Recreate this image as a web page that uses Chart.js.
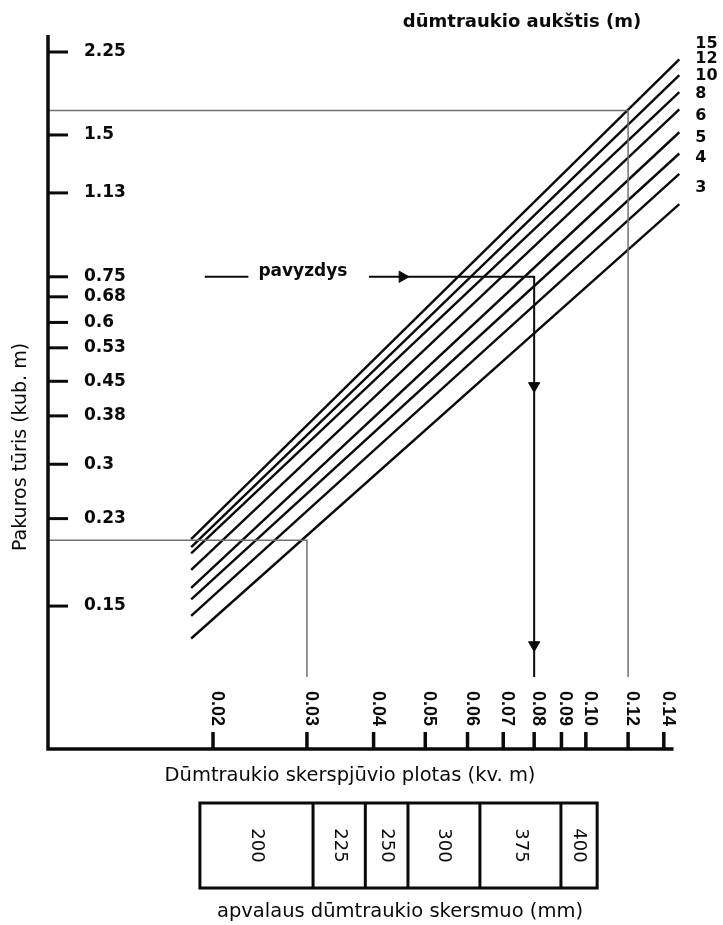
<!DOCTYPE html>
<html lang="lt">
<head>
<meta charset="utf-8">
<title>Pakuros tūris ir dūmtraukio skerspjūvis</title>
<script src="https://cdn.jsdelivr.net/npm/chart.js@4.4.1/dist/chart.umd.min.js"></script>
<style>
  html, body { margin: 0; padding: 0; background: #fff; }
  #wrap { width: 723px; height: 925px; }
</style>
</head>
<body>
<div id="wrap"><canvas id="nomogram" width="723" height="925"></canvas></div>
<script>
// ===== Duomenys =====
// dūmtraukio aukštis (m) – viena linija kiekvienam aukščiui
const HEIGHTS = ['15', '12', '10', '8', '6', '5', '4', '3'];
const LINE_AREA = [0.0182, 0.1497];                 // skerspjūvis (kv. m) linijos pradžioje / gale
const LINE_VOL_START = [0.208, 0.200, 0.194, 0.179, 0.164, 0.155, 0.143, 0.128];
const LINE_VOL_END = [2.17, 2.01, 1.85, 1.70, 1.52, 1.37, 1.24, 1.07];

// ašys
const Y_TICKS = [2.25, 1.5, 1.13, 0.75, 0.68, 0.6, 0.53, 0.45, 0.38, 0.3, 0.23, 0.15];
const Y_TICK_LABELS = ['2.25', '1.5', '1.13', '0.75', '0.68', '0.6', '0.53', '0.45', '0.38', '0.3', '0.23', '0.15'];
const X_TICKS = [0.02, 0.03, 0.04, 0.05, 0.06, 0.07, 0.08, 0.09, 0.10, 0.12, 0.14];
const X_TICK_LABELS = ['0.02', '0.03', '0.04', '0.05', '0.06', '0.07', '0.08', '0.09', '0.10', '0.12', '0.14'];
const X_MIN = 0.00981, X_MAX = 0.1521, X_AXIS_END = 0.146;
const Y_MIN = 0.07459, Y_MAX = 2.445;

// pagalbinės linijos (pilkos)
const GUIDE_HIGH_AREA = [0.00981, 0.12, 0.12];
const GUIDE_HIGH_VOL = [1.69, 1.69, 0.106];
const GUIDE_LOW_AREA = [0.00981, 0.03, 0.03];
const GUIDE_LOW_VOL = [0.207, 0.207, 0.106];

// pavyzdys
const EXAMPLE_LEAD_AREA = [0.0193, 0.0233];
const EXAMPLE_LEAD_VOL = [0.75, 0.75];
const EXAMPLE_AREA = [0.0392, 0.08, 0.08];
const EXAMPLE_VOL = [0.75, 0.75, 0.106];
const ARROW_AREA = [0.0453, 0.08, 0.08];
const ARROW_VOL = [0.75, 0.44, 0.124];
const ARROW_ROT = [90, 180, 180];

// apvalaus dūmtraukio skersmuo (mm) ir atitinkamos skerspjūvio ribos
const PIPE_DIAMETERS = ['200', '225', '250', '300', '375', '400'];
const PIPE_EDGES = [0.0189, 0.0308, 0.0386, 0.0464, 0.0633, 0.0898, 0.105];

const INK = '#0a0a0a';
const GUIDE = '#707070';
const FONT = '"DejaVu Sans", sans-serif';

// ===== Helpers =====
function toPoints(xs, ys) {
  return xs.map((v, i) => ({ x: v, y: ys[i] }));
}

function line(data, color, width) {
  return { data, showLine: true, borderColor: color, borderWidth: width, pointRadius: 0, fill: false };
}

// ===== Plugin: ašys, užrašai, lentelė =====
const nomogramDecor = {
  id: 'nomogramDecor',
  afterDatasetsDraw(chart) {
    const { ctx, chartArea: area, scales: { x, y } } = chart;
    ctx.save();
    ctx.strokeStyle = INK;
    ctx.fillStyle = INK;
    ctx.lineCap = 'butt';

    // ašių linijos
    ctx.lineWidth = 3.5;
    ctx.beginPath();
    ctx.moveTo(area.left, area.top);
    ctx.lineTo(area.left, area.bottom);
    ctx.lineTo(x.getPixelForValue(X_AXIS_END), area.bottom);
    ctx.stroke();

    // y padalos (į vidų) + užrašai
    ctx.font = 'bold 17px ' + FONT;
    ctx.textAlign = 'left';
    ctx.textBaseline = 'middle';
    Y_TICKS.forEach((v, i) => {
      const py = y.getPixelForValue(v);
      ctx.lineWidth = 3;
      ctx.beginPath();
      ctx.moveTo(area.left, py);
      ctx.lineTo(area.left + 20, py);
      ctx.stroke();
      ctx.fillText(Y_TICK_LABELS[i], area.left + 36, py);
    });

    // x padalos (į viršų) + pasukti užrašai
    ctx.font = 'bold 18px "Liberation Sans", sans-serif';
    X_TICKS.forEach((v, i) => {
      const px = x.getPixelForValue(v);
      ctx.lineWidth = 3.5;
      ctx.beginPath();
      ctx.moveTo(px, area.bottom);
      ctx.lineTo(px, area.bottom - 17);
      ctx.stroke();
      ctx.save();
      ctx.translate(px + 4, area.bottom - 23);
      ctx.rotate(Math.PI / 2);
      ctx.textAlign = 'right';
      ctx.fillText(X_TICK_LABELS[i], 0, 0);
      ctx.restore();
    });

    // aukščių žymės linijų galuose
    ctx.font = 'bold 16px ' + FONT;
    ctx.textAlign = 'left';
    HEIGHTS.forEach((h, i) => {
      const px = x.getPixelForValue(LINE_AREA[1]);
      const py = y.getPixelForValue(LINE_VOL_END[i]);
      ctx.fillText(h, px + 16, py - 16);
    });

    // pavyzdys
    ctx.font = 'bold 17px ' + FONT;
    ctx.fillText('pavyzdys', x.getPixelForValue(EXAMPLE_LEAD_AREA[1]) + 10, y.getPixelForValue(0.75) - 5);

    // antraštės
    ctx.textAlign = 'center';
    ctx.font = 'bold 18px ' + FONT;
    ctx.fillText('dūmtraukio aukštis (m)', 522, 22);

    ctx.font = '19.5px ' + FONT;
    ctx.fillText('Dūmtraukio skerspjūvio plotas (kv. m)', 350, area.bottom + 27);
    ctx.fillText('apvalaus dūmtraukio skersmuo (mm)', 400, area.bottom + 163);

    ctx.save();
    ctx.translate(21, 447);
    ctx.rotate(-Math.PI / 2);
    ctx.font = '19px ' + FONT;
    ctx.fillText('Pakuros tūris (kub. m)', 0, 0);
    ctx.restore();

    // skersmenų lentelė
    const top = area.bottom + 54;
    const bottom = area.bottom + 139;
    ctx.lineWidth = 3;
    const left = x.getPixelForValue(PIPE_EDGES[0]);
    const right = x.getPixelForValue(PIPE_EDGES[PIPE_EDGES.length - 1]);
    ctx.strokeRect(left, top, right - left, bottom - top);
    ctx.font = '18px ' + FONT;
    PIPE_DIAMETERS.forEach((d, i) => {
      const a = x.getPixelForValue(PIPE_EDGES[i]);
      const b = x.getPixelForValue(PIPE_EDGES[i + 1]);
      if (i > 0) {
        ctx.beginPath();
        ctx.moveTo(a, top);
        ctx.lineTo(a, bottom);
        ctx.stroke();
      }
      ctx.save();
      ctx.translate((a + b) / 2, (top + bottom) / 2);
      ctx.rotate(Math.PI / 2);
      ctx.textAlign = 'center';
      ctx.fillText(d, 0, 0);
      ctx.restore();
    });

    ctx.restore();
  }
};

// ===== Chart =====
const datasets = [
  line(toPoints(GUIDE_HIGH_AREA, GUIDE_HIGH_VOL), GUIDE, 1.5),
  line(toPoints(GUIDE_LOW_AREA, GUIDE_LOW_VOL), GUIDE, 1.5),
  ...HEIGHTS.map((h, i) => line(toPoints(LINE_AREA, [LINE_VOL_START[i], LINE_VOL_END[i]]), INK, 2.4)),
  line(toPoints(EXAMPLE_LEAD_AREA, EXAMPLE_LEAD_VOL), INK, 2),
  line(toPoints(EXAMPLE_AREA, EXAMPLE_VOL), INK, 2),
  {
    data: toPoints(ARROW_AREA, ARROW_VOL),
    showLine: false,
    pointStyle: 'triangle',
    pointRadius: 6.5,
    pointRotation: ARROW_ROT,
    backgroundColor: INK,
    borderColor: INK,
    borderWidth: 1
  }
];

new Chart(document.getElementById('nomogram'), {
  type: 'scatter',
  data: { datasets },
  options: {
    responsive: false,
    animation: false,
    layout: { padding: { left: 48, top: 35, right: 40, bottom: 176 } },
    plugins: { legend: { display: false }, tooltip: { enabled: false } },
    scales: {
      x: { type: 'logarithmic', min: X_MIN, max: X_MAX, bounds: 'data', display: false },
      y: { type: 'logarithmic', min: Y_MIN, max: Y_MAX, bounds: 'data', display: false }
    }
  },
  plugins: [nomogramDecor]
});
</script>
</body>
</html>
